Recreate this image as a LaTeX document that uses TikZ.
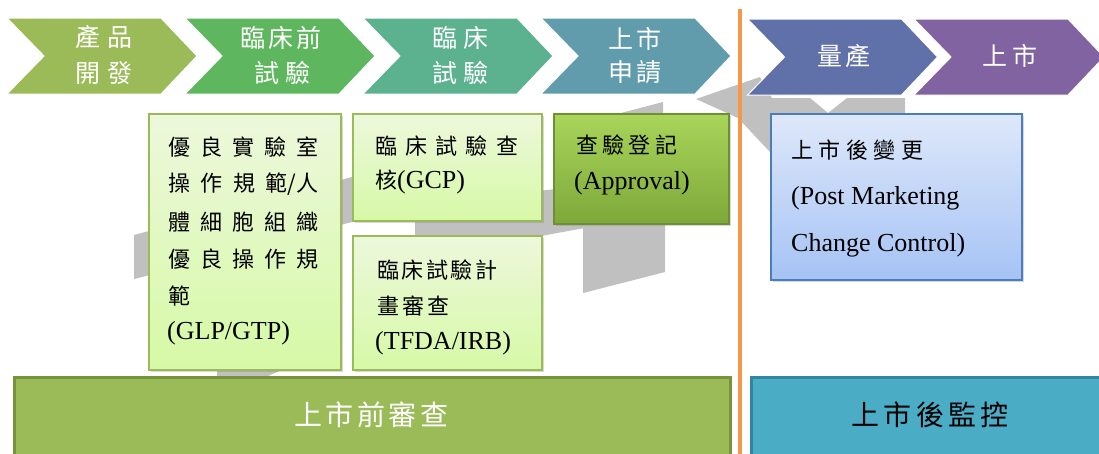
\documentclass[tikz,border=0pt]{standalone}
\usepackage{fontspec}
\setmainfont{Liberation Serif}
\newfontfamily\cjk{Noto Sans CJK TC}
\usetikzlibrary{shadows}
\definecolor{grayc}{HTML}{C0C0C0}
\definecolor{cA}{HTML}{9BBB59}
\definecolor{cB}{HTML}{5EB75E}
\definecolor{cC}{HTML}{5CB18F}
\definecolor{cD}{HTML}{609CAC}
\definecolor{cE}{HTML}{6070A8}
\definecolor{cF}{HTML}{8063A0}
\definecolor{paletop}{HTML}{EDF8DC}
\definecolor{palebot}{HTML}{D6F9A6}
\definecolor{paleedge}{HTML}{9BBB59}
\definecolor{apptop}{HTML}{A9D55A}
\definecolor{appbot}{HTML}{7EA83A}
\definecolor{appedge}{HTML}{6E8F34}
\definecolor{bluetop}{HTML}{DEE8FA}
\definecolor{bluebot}{HTML}{A6C3F5}
\definecolor{blueedge}{HTML}{4A7EBB}
\definecolor{barA}{HTML}{9BBB59}
\definecolor{barAedge}{HTML}{77933C}
\definecolor{barB}{HTML}{4BACC6}
\definecolor{barBedge}{HTML}{31859C}
\definecolor{orangec}{HTML}{F79646}
\newcommand\sline[2]{\makebox[#1][s]{#2}}
\newcommand\cj[1]{{\cjk\fontsize{22}{26}\selectfont #1}}
\begin{document}
\begin{tikzpicture}[x=1pt,y=-1pt,
  chev/.style={draw=white, line width=1pt},
  ctext/.style={text=white, inner sep=0pt, font=\cjk\fontsize{25}{30}\selectfont},
  shadowed/.style={drop shadow={shadow xshift=2pt, shadow yshift=-2pt, opacity=0.3}},
  palebox/.style={shadowed, draw=paleedge, line width=1.5pt, top color=paletop, bottom color=palebot, anchor=north west, inner sep=0pt},
  appbox/.style={shadowed, draw=appedge, line width=1.5pt, top color=apptop, bottom color=appbot, anchor=north west, inner sep=0pt},
  bluebox/.style={shadowed, draw=blueedge, line width=1.5pt, top color=bluetop, bottom color=bluebot, anchor=north west, inner sep=0pt},
  cjt/.style={anchor=west, inner sep=0pt, font=\cjk\fontsize{22}{26}\selectfont},
  lat/.style={anchor=west, inner sep=0pt, font=\fontsize{26}{30}\selectfont},
  bartext/.style={inner sep=0pt, font=\cjk\fontsize{28}{32}\selectfont}]
\useasboundingbox (0,0) rectangle (1099,453);
\clip (0,0) rectangle (1099,453);
\fill[white] (0,0) rectangle (1099,453);
% gray background steps
\fill[grayc] (134,235) -- (352,177) -- (352,222) -- (290,238) -- (290,366) -- (266,377) -- (217,377) -- (217,258) -- (134,279) -- cycle;
\fill[grayc] (415,205) -- (556,189) -- (590,222) -- (590,227) -- (541,236) -- (415,236) -- cycle;
\fill[grayc] (583,215) -- (665,215) -- (665,272) -- (583,293) -- cycle;
\fill[grayc] (617,114) -- (663,102) -- (663,120) -- (617,120) -- cycle;
\fill[grayc] (696,99) -- (760,77) -- (772,98) -- (810,98) -- (828,113) -- (847,98) -- (905,98) -- (905,113) -- (770,113) -- (770,152) -- (738,118) -- cycle;
% chevrons
\foreach \x/\col in {7/cA,185/cB,363/cC,541/cD}{
  \filldraw[chev, fill=\col] (\x,18) -- ++(154,0) -- ++(36,38) -- ++(-36,38) -- ++(-154,0) -- ++(37,-38) -- cycle;
}
\foreach \x/\col in {747.5/cE,914/cF}{
  \filldraw[chev, fill=\col] (\x,19) -- ++(154,0) -- ++(36,38) -- ++(-36,38) -- ++(-154,0) -- ++(37,-38) -- cycle;
}
\node[ctext] (c1a) at (104,37.5) {\sline{57pt}{產\hfil 品}};
\node[ctext] (c1b) at (104,73) {\sline{57pt}{開\hfil 發}};
\node[ctext] (c2a) at (281,37.5) {\sline{81pt}{臨\hfil 床\hfil 前}};
\node[ctext] (c2b) at (282,73) {\sline{56pt}{試\hfil 驗}};
\node[ctext] (c3a) at (460,37.5) {\sline{56pt}{臨\hfil 床}};
\node[ctext] (c3b) at (460,73) {\sline{56pt}{試\hfil 驗}};
\node[ctext] (c4a) at (635,39) {\sline{53pt}{上\hfil 市}};
\node[ctext] (c4b) at (635,72) {\sline{53pt}{申\hfil 請}};
\node[ctext] (c5) at (844,56) {\sline{53pt}{量\hfil 產}};
\node[ctext] (c6) at (1010,56) {\sline{55pt}{上\hfil 市}};
% orange divider
\draw[orangec, line width=4.5pt] (740,9) coordinate (divtop) -- (740,460) coordinate (divbot);
% boxes
\node[palebox, minimum width=192pt, minimum height=256pt] (glp) at (148,113) {};
\node[palebox, minimum width=189pt, minimum height=107pt] (gcp) at (352,113) {};
\node[palebox, minimum width=189pt, minimum height=134pt] (tfda) at (352,235) {};
\node[appbox, minimum width=175pt, minimum height=110pt] (app) at (553,113) {};
\node[bluebox, minimum width=251pt, minimum height=166pt] (post) at (770,113) {};
% box texts
\node[cjt] (g1) at (168,147) {\sline{150pt}{優\hfil 良\hfil 實\hfil 驗\hfil 室}};
\node[cjt] (g2) at (168,184) {\sline{150pt}{操\hfil 作\hfil 規\hfil 範/人}};
\node[cjt] (g3) at (168,222) {\sline{150pt}{體\hfil 細\hfil 胞\hfil 組\hfil 織}};
\node[cjt] (g4) at (168,259) {\sline{150pt}{優\hfil 良\hfil 操\hfil 作\hfil 規}};
\node[cjt] (g5) at (168,296) {範};
\node[lat] (g6) at (167,333) {(GLP/GTP)};
\node[cjt] (p1) at (375,146) {\sline{143pt}{臨\hfil 床\hfil 試\hfil 驗\hfil 查}};
\node[lat] (p2) at (375,182) {\cj{核}(GCP)};
\node[cjt] (t1) at (377,270) {\sline{120pt}{臨\hfil 床\hfil 試\hfil 驗\hfil 計}};
\node[cjt] (t2) at (377,306) {\sline{72pt}{畫\hfil 審\hfil 查}};
\node[lat] (t3) at (375,343) {(TFDA/IRB)};
\node[cjt] (a1) at (576,145) {\sline{101pt}{查\hfil 驗\hfil 登\hfil 記}};
\node[lat] (a2) at (574,183) {(Approval)};
\node[cjt] (b1) at (791,150) {\sline{132pt}{上\hfil 市\hfil 後\hfil 變\hfil 更}};
\node[lat] (b2) at (791,198) {(Post Marketing};
\node[lat] (b3) at (791,245) {Change Control)};
% bottom bars
\node[draw=barAedge, fill=barA, line width=3pt, anchor=north west, minimum width=716pt, minimum height=100pt, inner sep=0pt] (pre) at (13,376) {};
\node[draw=barBedge, fill=barB, line width=3pt, anchor=north west, minimum width=360pt, minimum height=100pt, inner sep=0pt] (postbar) at (750,376) {};
\node[bartext, text=white] (pretxt) at (371,415) {\sline{154pt}{上\hfil 市\hfil 前\hfil 審\hfil 查}};
\node[bartext, text=black] (posttxt) at (930,415) {\sline{158pt}{上\hfil 市\hfil 後\hfil 監\hfil 控}};
\end{tikzpicture}
\end{document}
